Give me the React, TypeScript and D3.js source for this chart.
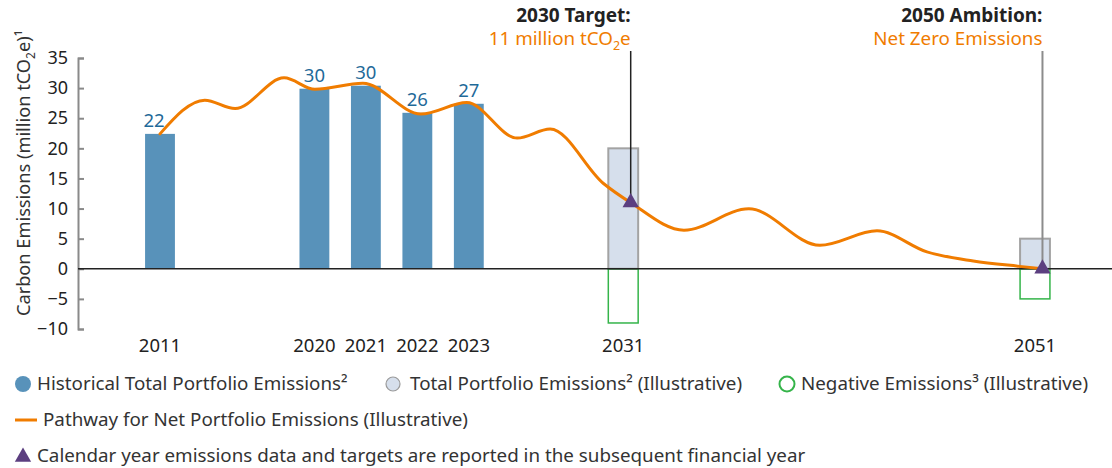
import React from "react";
import * as d3 from "d3";

// ---- data ----
const slotLabels = ["2011", "", "", "2020", "2021", "2022", "2023", "", "", "2031", "", "", "", "", "", "", "", "2051"];
const histSlots = [0, 3, 4, 5, 6];
const histValues = [22.4, 29.9, 30.4, 25.9, 27.4];
const illusSlots = [9, 17];
const illusTotal = [20, 5];
const illusNegative = [-9, -5];
const targetValues = [11, 0];
const pathwayPos = [0, 0.87, 1.46, 2.41, 3.01, 3.94, 5.07, 5.96, 6.94, 7.58, 8.61, 9.14, 10.18, 11.44, 12.82, 13.93, 14.9, 15.8, 16.7, 17.14];
const pathwayValues = [22.4, 28.0, 26.6, 31.7, 29.8, 30.8, 25.7, 27.6, 21.7, 23.2, 14.2, 11.0, 6.4, 9.95, 3.9, 6.3, 2.8, 1.3, 0.4, 0];
const yTicks = [-10, -5, 0, 5, 10, 15, 20, 25, 30, 35];

const W = 1112, H = 468;
const FONT = "'Noto Sans', 'Open Sans', sans-serif";
const C = {
  hist: "#5892ba",
  histLabel: "#1f6a99",
  illusFill: "#d6dfec",
  illusStroke: "#a3a3a3",
  neg: "#35b44a",
  orange: "#f07c00",
  tri: "#5c3f80",
  axis: "#8a8a8a",
  text: "#222",
  legend: "#333",
};

export default function App() {
  const yAxisRef = React.useRef<SVGGElement>(null);
  const x = d3.scaleBand<number>().domain(d3.range(slotLabels.length)).range([134.26, 1060.74]).paddingInner(0.42).paddingOuter(0.21);
  const bw = x.bandwidth();
  const cx = (i: number) => (x(i) as number) + bw / 2;
  const xPos = d3.scaleLinear().domain([0, slotLabels.length - 1]).range([cx(0), cx(slotLabels.length - 1)]);
  const y = d3.scaleLinear().domain([-10, 35]).range([329, 58]);
  const axisX = 78;

  React.useEffect(() => {
    if (!yAxisRef.current) return;
    const g = d3.select(yAxisRef.current);
    g.call(d3.axisLeft(y).tickValues(yTicks).tickSizeInner(-6).tickSizeOuter(-6).tickPadding(10) as any);
    g.selectAll("path.domain").attr("stroke", C.axis).attr("stroke-width", 2);
    g.selectAll(".tick line").attr("stroke", C.axis).attr("stroke-width", 2);
    g.selectAll(".tick text").attr("fill", C.text).attr("font-size", 18).attr("font-family", FONT);
  }, []);

  const line = d3.line<number>()
    .x((_, i) => xPos(pathwayPos[i]))
    .y((d) => y(d))
    .curve(d3.curveMonotoneX);

  const tri = d3.symbol().type(d3.symbolTriangle).size(115)();
  const triX = (slot: number) => (x(slot) as number) + bw * 0.75;
  const annTop = 51;
  const LF = 18.8;

  return (
    <svg width={W} height={H} style={{ position: "absolute", left: 0, top: 0, background: "#fff" }} fontFamily={FONT}>
      {/* y label */}
      <text transform={`translate(30,173) rotate(-90)`} textAnchor="middle" fontSize={18.2} fill={C.legend}>
        Carbon Emissions (million tCO<tspan fontSize={12} dy={5}>2</tspan><tspan dy={-5}>e)¹</tspan>
      </text>
      <g ref={yAxisRef} transform={`translate(${axisX},0)`} />
      {/* historical bars */}
      {histSlots.map((s, i) => (
        <g key={"h" + s}>
          <rect x={x(s)} y={y(histValues[i])} width={bw} height={y(0) - y(histValues[i])} fill={C.hist} />
          <text x={cx(s) - (i === 0 ? 6 : 0)} y={y(histValues[i]) - 7} textAnchor="middle" fontSize={18.5} fill={C.histLabel}>
            {d3.format(".0f")(histValues[i])}
          </text>
        </g>
      ))}
      {/* illustrative bars */}
      {illusSlots.map((s, i) => (
        <g key={"i" + s}>
          <rect x={x(s)} y={y(illusTotal[i])} width={bw} height={y(0) - y(illusTotal[i])} fill={C.illusFill} stroke={C.illusStroke} strokeWidth={2} />
          <rect x={x(s)} y={y(0)} width={bw} height={y(illusNegative[i]) - y(0)} fill="none" stroke={C.neg} strokeWidth={1.5} />
        </g>
      ))}
      {/* zero line */}
      <line x1={axisX} x2={W} y1={y(0)} y2={y(0)} stroke={C.text} strokeWidth={1.5} />
      {/* pathway */}
      <path d={line(pathwayValues) || ""} fill="none" stroke={C.orange} strokeWidth={3} strokeLinecap="round" />
      {/* annotation lines + triangles */}
      {illusSlots.map((s, i) => (
        <g key={"t" + s}>
          <line x1={triX(s)} x2={triX(s)} y1={annTop} y2={y(targetValues[i]) - 4} stroke={i === 0 ? "#222" : "#8c8c8c"} strokeWidth={i === 0 ? 1.5 : 2} />
          <path d={tri || ""} transform={`translate(${triX(s)},${y(targetValues[i])})`} fill={C.tri} />
        </g>
      ))}
      {/* annotations */}
      <text x={triX(9)} y={22} textAnchor="end" fontSize={19} fontWeight="bold" fill={C.text}>2030 Target:</text>
      <text x={triX(9)} y={45} textAnchor="end" fontSize={18.8} fill={C.orange}>
        11 million tCO<tspan fontSize={12.5} dy={5}>2</tspan><tspan dy={-5}>e</tspan>
      </text>
      <text x={triX(17)} y={22} textAnchor="end" fontSize={19} fontWeight="bold" fill={C.text}>2050 Ambition:</text>
      <text x={triX(17)} y={45} textAnchor="end" fontSize={18.8} fill={C.orange}>Net Zero Emissions</text>
      {/* x tick labels */}
      {slotLabels.map((l, i) => l ? (
        <text key={"x" + i} x={cx(i)} y={352} textAnchor="middle" fontSize={18.5} fill={C.text}>{l}</text>
      ) : null)}
      {/* legend */}
      <g fontSize={LF} fill={C.legend}>
        <circle cx={23} cy={384} r={8} fill={C.hist} />
        <text x={37} y={390}>Historical Total Portfolio Emissions²</text>
        <circle cx={393} cy={384} r={7} fill={C.illusFill} stroke="#9a9a9a" strokeWidth={1.2} />
        <text x={410} y={390}>Total Portfolio Emissions² (Illustrative)</text>
        <circle cx={787} cy={384} r={7.5} fill="none" stroke={C.neg} strokeWidth={2} />
        <text x={801} y={390}>Negative Emissions³ (Illustrative)</text>
        <line x1={15} x2={37} y1={420} y2={420} stroke={C.orange} strokeWidth={3} />
        <text x={43} y={426}>Pathway for Net Portfolio Emissions (Illustrative)</text>
        <path d={tri || ""} transform="translate(23,457)" fill={C.tri} />
        <text x={37} y={462}>Calendar year emissions data and targets are reported in the subsequent financial year</text>
      </g>
    </svg>
  );
}
